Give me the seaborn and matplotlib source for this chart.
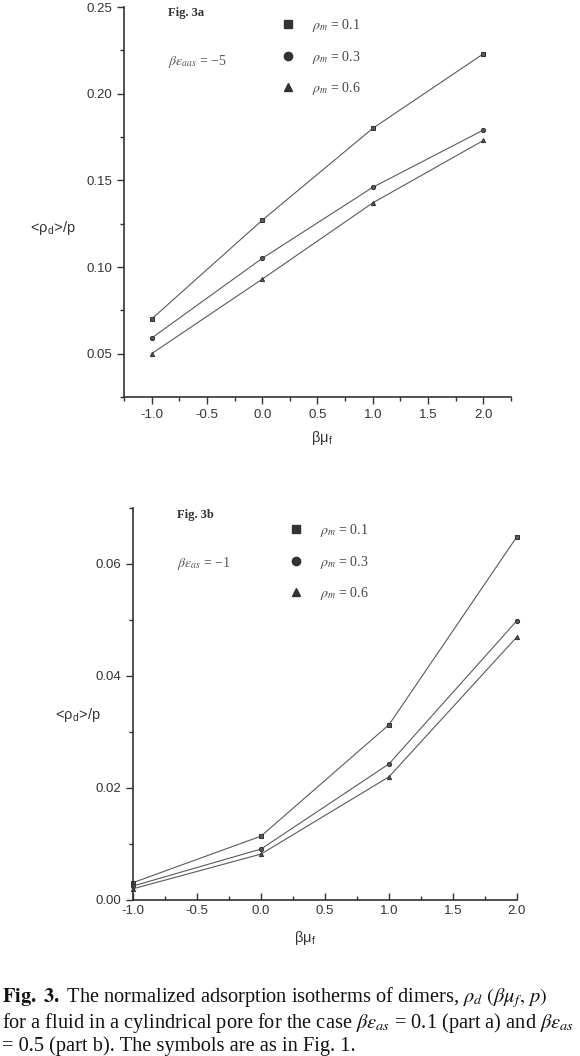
import matplotlib
matplotlib.use("Agg")
import numpy as np
import pandas as pd
import seaborn as sns
import matplotlib.pyplot as plt
from matplotlib.lines import Line2D
from matplotlib.ticker import MultipleLocator, FormatStrFormatter

# ---------------- data ----------------
beta_mu = [-1.0, 0.0, 1.0, 2.0]
rho_labels = ["0.1", "0.3", "0.6"]
rho_markers = ["s", "o", "^"]

a_rho01 = [0.070, 0.127, 0.180, 0.223]
a_rho03 = [0.059, 0.105, 0.146, 0.179]
a_rho06 = [0.050, 0.093, 0.137, 0.173]

b_rho01 = [0.0031, 0.0114, 0.0313, 0.0649]
b_rho03 = [0.0025, 0.0091, 0.0243, 0.0499]
b_rho06 = [0.0020, 0.0082, 0.0220, 0.0470]

a_ticks_y = [0.05, 0.10, 0.15, 0.20, 0.25]
b_ticks_y = [0.00, 0.02, 0.04, 0.06]
ticks_x = [-1.0, -0.5, 0.0, 0.5, 1.0, 1.5, 2.0]


def make_df(series):
    rows = []
    for lab, vals in zip(rho_labels, series):
        for x, v in zip(beta_mu, vals):
            rows.append({"bmu": x, "val": v, "rho": lab})
    return pd.DataFrame(rows)


df_a = make_df([a_rho01, a_rho03, a_rho06])
df_b = make_df([b_rho01, b_rho03, b_rho06])

# ---------------- style ----------------
sns.set_style("ticks")
plt.rcParams["font.family"] = ["Liberation Sans", "DejaVu Sans"]
plt.rcParams["mathtext.fontset"] = "stix"
plt.rcParams["axes.unicode_minus"] = False

W, H = 580, 1056
fig = plt.figure(figsize=(W / 100, H / 100), dpi=100)


def fx(px):
    return px / W


def fy(py):
    return 1 - py / H


LINE = "#5a5a5a"
INK = "#333333"
SERIF = ["Liberation Serif", "DejaVu Serif"]

marker_map = dict(zip(rho_labels, rho_markers))

# ---------------- panel a ----------------
ax1 = fig.add_axes([fx(124), fy(397), fx(511) - fx(124), (397 - 7) / H])
sns.lineplot(data=df_a, x="bmu", y="val", style="rho", markers=marker_map,
             dashes=False, color=LINE, linewidth=0.8, markersize=3,
             markeredgecolor=INK, legend=False, ax=ax1)
ax1.set_xlim(-1.25, 2.25)
ax1.set_ylim(0.025, 0.25)
ax1.set_xticks(ticks_x)
ax1.set_yticks(a_ticks_y)
ax1.xaxis.set_minor_locator(MultipleLocator(0.25))
ax1.yaxis.set_minor_locator(MultipleLocator(0.025))
ax1.xaxis.set_major_formatter(FormatStrFormatter("%.1f"))
ax1.yaxis.set_major_formatter(FormatStrFormatter("%.2f"))
ax1.tick_params(axis="both", which="major", direction="out", length=5,
                width=1, labelsize=9.5, colors=INK)
ax1.tick_params(axis="both", which="minor", direction="out", length=3, width=1, colors=INK)

# ---------------- panel b ----------------
ax2 = fig.add_axes([fx(133), fy(900), fx(517) - fx(133), (900 - 508) / H])
sns.lineplot(data=df_b, x="bmu", y="val", style="rho", markers=marker_map,
             dashes=False, color=LINE, linewidth=0.8, markersize=3,
             markeredgecolor=INK, legend=False, ax=ax2)
ax2.set_xlim(-1.0, 2.0)
ax2.set_ylim(0.0, 0.07)
ax2.set_xticks(ticks_x)
ax2.set_yticks(b_ticks_y)
ax2.xaxis.set_minor_locator(MultipleLocator(0.25))
ax2.yaxis.set_minor_locator(MultipleLocator(0.01))
ax2.xaxis.set_major_formatter(FormatStrFormatter("%.1f"))
ax2.yaxis.set_major_formatter(FormatStrFormatter("%.2f"))
ax2.tick_params(axis="x", which="major", direction="in", length=5, width=1,
                labelsize=9.5, colors=INK)
ax2.tick_params(axis="x", which="minor", direction="in", length=3, width=1, colors=INK)
ax2.tick_params(axis="y", which="major", direction="out", length=5, width=1,
                labelsize=9.5, colors=INK)
ax2.tick_params(axis="y", which="minor", direction="out", length=3, width=1, colors=INK)

for ax in (ax1, ax2):
    sns.despine(ax=ax)
    for s in ("left", "bottom"):
        ax.spines[s].set_color(INK)
        ax.spines[s].set_linewidth(1.2)
    ax.set_xlabel("")
    ax.set_ylabel("")
    for ln in ax.lines:
        ln.set_clip_on(False)

# axis labels
ylab = r"<ρ$_\mathregular{d}$>/p"
xlab = r"βμ$_\mathregular{f}$"
fig.text(fx(53), fy(228), ylab, ha="center", va="center", fontsize=10.5, color=INK)
fig.text(fx(322), fy(438), xlab, ha="center", va="center", fontsize=10.5, color=INK)
fig.text(fx(78), fy(715), ylab, ha="center", va="center", fontsize=10.5, color=INK)
fig.text(fx(305), fy(938), xlab, ha="center", va="center", fontsize=10.5, color=INK)

# panel annotations
fig.text(fx(168), fy(13), "Fig. 3a", ha="left", va="center", fontsize=9,
         fontweight="bold", family=SERIF, color=INK)
fig.text(fx(168), fy(61), r"$\beta\varepsilon_{aas}$ = −5", ha="left", va="center",
         fontsize=10, family=SERIF, color="#555555")
fig.text(fx(177), fy(515), "Fig. 3b", ha="left", va="center", fontsize=9,
         fontweight="bold", family=SERIF, color=INK)
fig.text(fx(177), fy(563), r"$\beta\varepsilon_{as}$ = −1", ha="left", va="center",
         fontsize=10, family=SERIF, color="#555555")

# legends
handles = [Line2D([], [], marker=m, color=INK, linestyle="none", markersize=6)
           for m in rho_markers]
labels = [r"$\rho_m$ = " + l for l in rho_labels]
for (lx, ly) in [(274, 10), (282, 515)]:
    leg = fig.legend(handles, labels, loc="upper left",
                     bbox_to_anchor=(fx(lx), fy(ly)), frameon=False,
                     borderpad=0, handlelength=1.0, handletextpad=1.2,
                     labelspacing=1.05,
                     prop={"family": SERIF, "size": 10})
    for t in leg.get_texts():
        t.set_color("#444444")

# caption
cap_kw = dict(ha="left", va="center", fontsize=14.7, family=SERIF, color="#111111")
fig.text(fx(2), fy(998),
         r"$\mathbf{Fig.\ 3.}$ The normalized adsorption isotherms of dimers, $\rho_d\ (\beta\mu_f,\, p)$",
         **cap_kw)
fig.text(fx(2), fy(1023),
         r"for a fluid in a cylindrical pore for the case $\beta\varepsilon_{as}$ = 0.1 (part a) and $\beta\varepsilon_{as}$",
         **cap_kw)
fig.text(fx(2), fy(1046), "= 0.5 (part b). The symbols are as in Fig. 1.", **cap_kw)

fig.savefig("out.png", dpi=100)
